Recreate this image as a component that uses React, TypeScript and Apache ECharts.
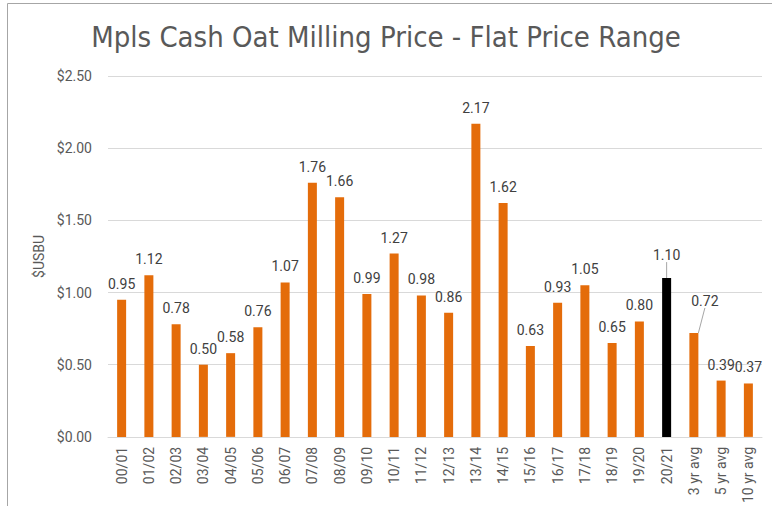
import React, { useEffect, useRef } from "react";
import * as echarts from "echarts";

const categories = ["00/01","01/02","02/03","03/04","04/05","05/06","06/07","07/08","08/09","09/10","10/11","11/12","12/13","13/14","14/15","15/16","16/17","17/18","18/19","19/20","20/21","3 yr avg","5 yr avg","10 yr avg"];
const values = [0.95,1.12,0.78,0.50,0.58,0.76,1.07,1.76,1.66,0.99,1.27,0.98,0.86,2.17,1.62,0.63,0.93,1.05,0.65,0.80,1.10,0.72,0.39,0.37];
const highlightCategory = "20/21";
const leaderCategories = ["20/21", "3 yr avg"];
const titleText = "Mpls Cash Oat Milling Price - Flat Price Range";
const yAxisName = "$USBU";

export default function App() {
  const ref = useRef<HTMLDivElement>(null);
  useEffect(() => {
    document.body.style.margin = "0";
    const chart = echarts.init(ref.current!, null, { renderer: "svg" });
    const data = values.map((v, i) => ({
      value: v,
      itemStyle: { color: categories[i] === highlightCategory ? "#000000" : "#E46C0A" },
      labelLine: { show: leaderCategories.includes(categories[i]) },
    }));
    chart.setOption({
      animation: false,
      title: {
        text: titleText,
        left: "center",
        top: 17,
        textStyle: {
          fontFamily: "'Liberation Sans Narrow', 'DejaVu Sans Condensed', Roboto, sans-serif",
          fontWeight: "normal",
          fontSize: 29,
          color: "#595959",
        },
      },
      graphic: [
        { type: "line", shape: { x1: 7.5, y1: 3.5, x2: 772, y2: 3.5 }, style: { stroke: "#a6a6a6", lineWidth: 1 } },
        { type: "line", shape: { x1: 7.5, y1: 3.5, x2: 7.5, y2: 506 }, style: { stroke: "#a6a6a6", lineWidth: 1 } },
      ],
      grid: { left: 108, right: 10, top: 76, bottom: 69, containLabel: false },
      xAxis: {
        type: "category",
        data: categories,
        axisLine: { lineStyle: { color: "#d9d9d9" } },
        axisTick: { show: false },
        axisLabel: {
          rotate: 90,
          interval: 0,
          fontFamily: "Roboto, sans-serif",
          fontSize: 14,
          color: "#595959",
          margin: 10,
        },
      },
      yAxis: {
        type: "value",
        min: 0,
        max: 2.5,
        interval: 0.5,
        name: yAxisName,
        nameLocation: "middle",
        nameGap: 62,
        nameRotate: 90,
        nameTextStyle: { fontFamily: "Roboto, sans-serif", fontSize: 14, color: "#595959" },
        axisLine: { show: false },
        axisTick: { show: false },
        splitLine: { lineStyle: { color: "#d9d9d9" } },
        axisLabel: {
          formatter: (v: number) => "$" + v.toFixed(2),
          fontFamily: "Roboto, sans-serif",
          fontSize: 14,
          color: "#595959",
          margin: 16,
        },
      },
      series: [
        {
          type: "bar",
          data,
          barWidth: 9,
          label: {
            show: true,
            position: "top",
            distance: 9,
            formatter: (p: any) => p.value.toFixed(2),
            fontFamily: "Roboto, sans-serif",
            fontSize: 14,
            color: "#404040",
          },
          labelLine: { show: false, lineStyle: { color: "#a6a6a6", width: 1 } },
          labelLayout: (p: any) => {
            const c = categories[p.dataIndex];
            if (c === highlightCategory) return { dy: -7 };
            if (c === "3 yr avg") return { dx: 11, dy: -16 };
            return {};
          },
        },
      ],
    });
    return () => chart.dispose();
  }, []);
  return <div ref={ref} style={{ width: 772, height: 506 }} />;
}
